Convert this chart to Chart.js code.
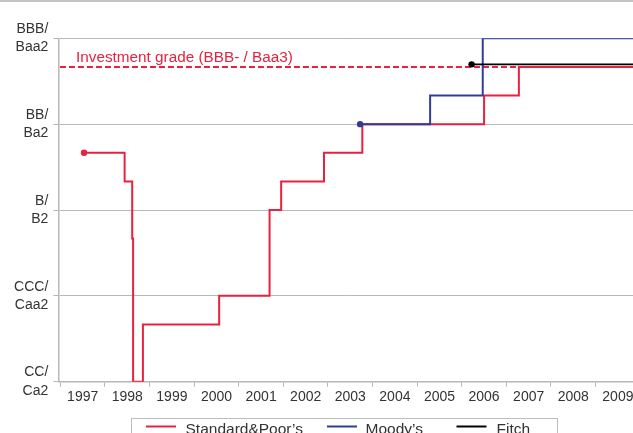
<!DOCTYPE html>
<html><head><meta charset="utf-8">
<script src="https://cdn.jsdelivr.net/npm/chart.js@4.4.0/dist/chart.umd.min.js"></script>
<style>html,body{margin:0;padding:0;background:#fff;overflow:hidden}canvas{display:block}</style>
</head><body>
<canvas id="c" width="633" height="433"></canvas>
<script>
// ---- data ----
const years = ['1997','1998','1999','2000','2001','2002','2003','2004','2005','2006','2007','2008','2009'];
const ratingLabels = [['CC/','Ca2'],['CCC/','Caa2'],['B/','B2'],['BB/','Ba2'],['BBB/','Baa2']];
const ratingTickValues = [0,3,6,9,12]; // notches above CC/Ca2
const spDates = [1997.53, 1998.44, 1998.61, 1998.63, 1998.85, 2000.56, 2001.69, 2001.95, 2002.91, 2003.77, 2006.50, 2007.28, 2010.2];
const spValues = [8, 7, 5, 0, 2, 3, 6, 7, 8, 9, 10, 11, 11];
const moodysDates = [2003.72, 2005.29, 2006.47, 2010.2];
const moodysValues = [9, 10, 12, 12];
const fitchDates = [2006.22, 2010.2];
const fitchValues = [11.09, 11.09];
const investmentGrade = 11;
const investmentLabel = 'Investment grade (BBB- / Baa3)';
const seriesNames = ['Standard&Poor\u2019s', 'Moody\u2019s', 'Fitch'];
const xRange = [1996.953, 2009.839];
const yRange = [0, 12];

// ---- styles ----
const RED = '#e8213f', BLUE = '#323c96', BLACK = '#000000', GRID = '#b8b8b8', TEXT = '#333333';
const FONT = '"Liberation Sans", Arial, sans-serif';

const toPts = (xs, ys) => xs.map((v, i) => ({x: v, y: ys[i]}));
const firstDot = r => (ctx) => ctx.dataIndex === 0 ? r : 0;

const decor = {
  id: 'decor',
  beforeDraw(chart) {
    const ctx = chart.ctx;
    ctx.save();
    ctx.fillStyle = '#c4c4c4';
    ctx.fillRect(0, 0, chart.width, 2);
    ctx.restore();
  },
  afterDraw(chart) {
    const {ctx, scales: {x, y}} = chart;
    ctx.save();
    ctx.font = '15.3px ' + FONT;
    ctx.fillStyle = RED;
    ctx.textBaseline = 'alphabetic';
    ctx.textAlign = 'left';
    ctx.fillText(investmentLabel, x.getPixelForValue(1997) + 15.6, y.getPixelForValue(investmentGrade) - 4.8);
    // legend
    ctx.strokeStyle = '#bdbdbd';
    ctx.lineWidth = 1;
    ctx.strokeRect(131.5, 418.5, 426, 40);
    const items = [
      {x0: 146, tx: 185.5, c: RED, lw: 2},
      {x0: 327, tx: 365.5, c: BLUE, lw: 2},
      {x0: 456.5, tx: 496.5, c: BLACK, lw: 2}
    ];
    ctx.font = '15.5px ' + FONT;
    items.forEach((it, i) => {
      ctx.strokeStyle = it.c;
      ctx.lineWidth = it.lw;
      ctx.beginPath();
      ctx.moveTo(it.x0, 426.5);
      ctx.lineTo(it.x0 + 30, 426.5);
      ctx.stroke();
      ctx.fillStyle = TEXT;
      ctx.fillText(seriesNames[i], it.tx, 433.5);
    });
    ctx.restore();
  }
};

new Chart(document.getElementById('c'), {
  type: 'line',
  data: {
    datasets: [
      {label: 'Investment grade', data: [{x: 1996.99, y: investmentGrade}, {x: 2010.2, y: investmentGrade}],
       borderColor: RED, borderWidth: 2, borderDash: [6, 3], pointRadius: 0, order: 4},
      {label: seriesNames[0], data: toPts(spDates, spValues), stepped: 'before', borderColor: RED, backgroundColor: RED,
       borderWidth: 2, pointRadius: firstDot(3.2), pointBorderWidth: 0, order: 3},
      {label: seriesNames[1], data: toPts(moodysDates, moodysValues), stepped: 'before', borderColor: BLUE, backgroundColor: BLUE,
       borderWidth: 2, pointRadius: firstDot(3.2), pointBorderWidth: 0, order: 2},
      {label: seriesNames[2], data: toPts(fitchDates, fitchValues), stepped: 'before', borderColor: BLACK, backgroundColor: BLACK,
       borderWidth: 1.6, pointRadius: firstDot(3.2), pointBorderWidth: 0, order: 1}
    ]
  },
  options: {
    responsive: false,
    animation: false,
    layout: {autoPadding: false, padding: {top: 38.3, left: 0, right: 0, bottom: 0}},
    plugins: {legend: {display: false}, tooltip: {enabled: false}},
    scales: {
      x: {
        type: 'linear', min: xRange[0], max: xRange[1],
        afterBuildTicks: s => { s.ticks = years.map(v => ({value: +v})); },
        afterFit: s => { s.height = 433 - 381.7; s.paddingLeft = 0; s.paddingRight = 0; },
        grid: {drawOnChartArea: false, drawTicks: true, tickLength: 5, color: GRID, lineWidth: 1},
        border: {color: GRID, width: 1.5},
        ticks: {callback: v => years[years.indexOf(String(v))], labelOffset: 22.3, padding: 2, color: TEXT,
                font: {family: FONT, size: 14}, maxRotation: 0, autoSkip: false}
      },
      y: {
        type: 'linear', min: yRange[0], max: yRange[1],
        afterBuildTicks: s => { s.ticks = ratingTickValues.map(v => ({value: v})); },
        afterFit: s => { s.width = 58.3; },
        grid: {drawOnChartArea: true, drawTicks: true, tickLength: 5, color: GRID, lineWidth: 1},
        border: {color: GRID, width: 1.5},
        ticks: {callback: v => ratingLabels[ratingTickValues.indexOf(v)], padding: 5, color: TEXT,
                font: {family: FONT, size: 14, lineHeight: 1.3}, autoSkip: false}
      }
    }
  },
  plugins: [decor]
});
</script>
</body></html>
